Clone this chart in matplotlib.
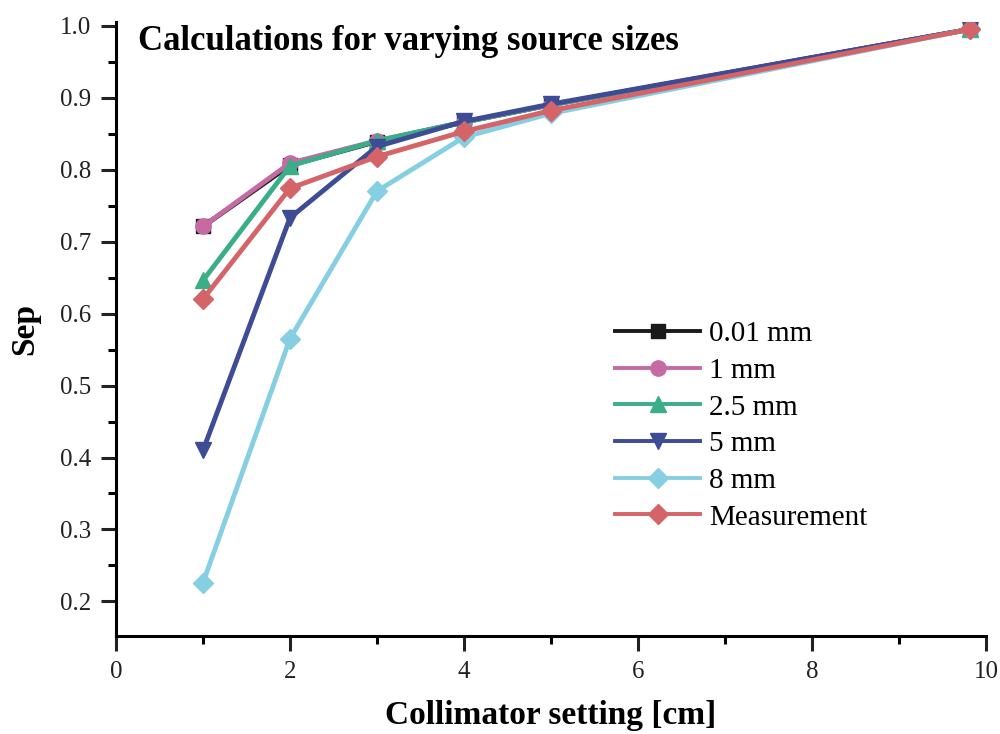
import matplotlib.pyplot as plt
from matplotlib.ticker import MultipleLocator

plt.rcParams['font.family'] = ['Liberation Serif', 'DejaVu Serif']

# collimator setting [cm]
collimator = [1, 2, 3, 4, 5, 9.82]

# Sep values per source size
sep_001mm = [0.721, 0.806, 0.839, 0.866, 0.890, 0.995]
sep_1mm = [0.721, 0.809, 0.840, 0.866, 0.890, 0.995]
sep_25mm = [0.646, 0.805, 0.840, 0.866, 0.890, 0.995]
sep_5mm = [0.410, 0.733, 0.832, 0.867, 0.891, 0.995]
sep_8mm = [0.226, 0.565, 0.770, 0.845, 0.878, 0.995]
sep_meas = [0.620, 0.774, 0.818, 0.853, 0.882, 0.995]

labels = ['0.01 mm', '1 mm', '2.5 mm', '5 mm', '8 mm', 'Measurement']

fig = plt.figure(figsize=(10, 7.34), dpi=100)
ax = fig.add_axes([0.116, 0.1335, 0.87, 0.8365])

series = [
    (sep_001mm, '#1a1a1a', 's', 10),
    (sep_1mm, '#c66aa4', 'o', 11),
    (sep_25mm, '#3aae86', '^', 12),
    (sep_5mm, '#3e4b95', 'v', 12),
    (sep_8mm, '#86cfe3', 'D', 10),
    (sep_meas, '#d46468', 'D', 10),
]
for (vals, col, mk, ms), lab in zip(series, labels):
    ax.plot(collimator, vals, color=col, marker=mk, markersize=ms,
            linewidth=3.5, label=lab)

ax.set_xlim(0, 10)
ax.set_ylim(0.152, 1.005)
ax.xaxis.set_major_locator(MultipleLocator(2))
ax.xaxis.set_minor_locator(MultipleLocator(1))
ax.yaxis.set_major_locator(MultipleLocator(0.1))
ax.yaxis.set_minor_locator(MultipleLocator(0.05))

for side in ['top', 'right']:
    ax.spines[side].set_visible(False)
for side in ['left', 'bottom']:
    ax.spines[side].set_linewidth(2.2)
ax.tick_params(which='major', direction='out', length=11, width=2.2,
               labelsize=18, pad=7, colors='#222222')
ax.tick_params(which='minor', direction='out', length=6, width=2.2)

ax.set_xlabel('Collimator setting [cm]', fontsize=24, fontweight='bold', labelpad=12)
ax.set_ylabel('Sep', fontsize=24, fontweight='bold', labelpad=14)

ax.text(0.025, 0.995, 'Calculations for varying source sizes', transform=ax.transAxes,
        fontsize=25, fontweight='bold', va='top', ha='left')

leg = ax.legend(loc='upper left', bbox_to_anchor=(0.574, 0.513), frameon=False,
                borderpad=0, borderaxespad=0, fontsize=21, handlelength=2.9,
                handletextpad=0.3, labelspacing=0.35)
for h in leg.get_lines():
    h.set_linewidth(2.8)

plt.savefig('out.png', dpi=100)
